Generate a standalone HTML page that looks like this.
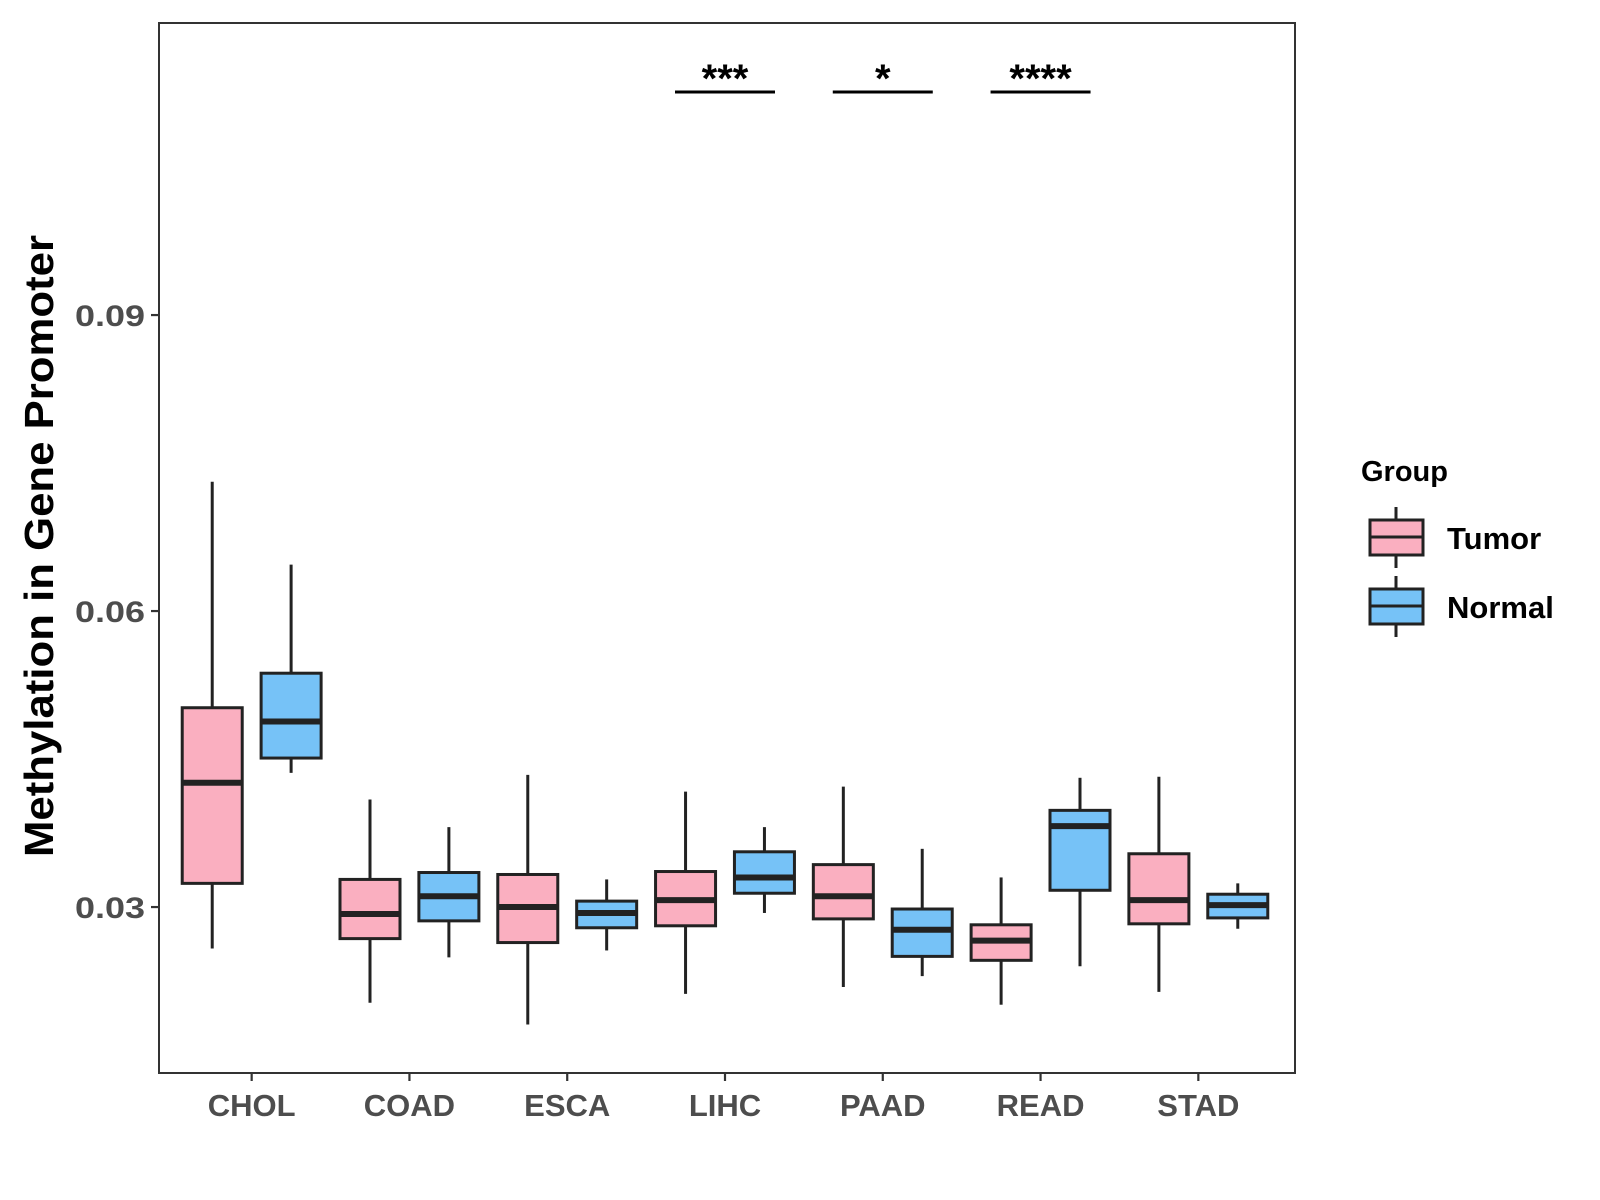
<!DOCTYPE html>
<html><head><meta charset="utf-8"><style>
html,body{margin:0;padding:0;background:#fff;}
svg{display:block;font-family:"Liberation Sans",Arial,sans-serif;}
</style></head><body>
<svg id="chart" width="1600" height="1200" viewBox="0 0 1600 1200" xmlns="http://www.w3.org/2000/svg">
<rect x="0" y="0" width="1600" height="1200" fill="#fff"/>
<g id="plot"></g>
<text transform="translate(53,546) rotate(-90)" text-anchor="middle" font-size="41" font-weight="bold" fill="#000" textLength="622" lengthAdjust="spacingAndGlyphs">Methylation in Gene Promoter</text>
<g>
<text x="1361" y="481" font-size="29" font-weight="bold" fill="#000">Group</text>
<g>
<line x1="1396" y1="507" x2="1396" y2="568" stroke="#222" stroke-width="3"/>
<rect x="1370" y="520" width="53" height="35" fill="#FAAFC0" stroke="#222" stroke-width="3"/>
<line x1="1370" y1="537" x2="1423" y2="537" stroke="#222" stroke-width="3"/>
<text x="1447" y="549" font-size="31" font-weight="bold" fill="#000">Tumor</text>
</g>
<g>
<line x1="1396" y1="576" x2="1396" y2="637" stroke="#222" stroke-width="3"/>
<rect x="1370" y="589" width="53" height="35" fill="#76C2F7" stroke="#222" stroke-width="3"/>
<line x1="1370" y1="606" x2="1423" y2="606" stroke="#222" stroke-width="3"/>
<text x="1447" y="618" font-size="31" font-weight="bold" fill="#000">Normal</text>
</g>
</g>
</svg>
<script>
const categories=["CHOL","COAD","ESCA","LIHC","PAAD","READ","STAD"];
const tumorLow=[0.0258,0.0203,0.0181,0.0212,0.0219,0.0201,0.0214];
const tumorQ1=[0.0324,0.0268,0.0264,0.0281,0.0288,0.0246,0.0283];
const tumorMed=[0.0426,0.0293,0.0300,0.0307,0.0311,0.0266,0.0307];
const tumorQ3=[0.0502,0.0328,0.0333,0.0336,0.0343,0.0282,0.0354];
const tumorHigh=[0.0731,0.0409,0.0434,0.0417,0.0422,0.0330,0.0432];
const normalLow=[0.0436,0.0249,0.0256,0.0294,0.0230,0.0240,0.0278];
const normalQ1=[0.0451,0.0286,0.0279,0.0314,0.0250,0.0317,0.0289];
const normalMed=[0.0488,0.0311,0.0294,0.0330,0.0277,0.0382,0.0302];
const normalQ3=[0.0537,0.0335,0.0306,0.0356,0.0298,0.0398,0.0313];
const normalHigh=[0.0647,0.0381,0.0328,0.0381,0.0359,0.0431,0.0324];
const yTicks=[0.03,0.06,0.09];
const yTickLabels=["0.03","0.06","0.09"];
const sigCategories=["LIHC","PAAD","READ"];
const sigLabels=["***","*","****"];

const NS="http://www.w3.org/2000/svg";
const P={l:159,r:1295,t:23,b:1073};
const yMin=0.01318,yMax=0.1196;
function y(v){return P.b-(v-yMin)/(yMax-yMin)*(P.b-P.t);}
const step=(P.r-P.l)/(categories.length-1+1.2);
function x(i){return P.l-2+step*(i+0.6);}
const g=document.getElementById('plot');
function mk(tag,attrs,parent){const e=document.createElementNS(NS,tag);for(const k in attrs)e.setAttribute(k,attrs[k]);(parent||g).appendChild(e);return e;}

const axisColor="#4d4d4d";
yTicks.forEach((t,i)=>{
  const tk=mk('line',{x1:P.l-8,x2:P.l,y1:y(t),y2:y(t),stroke:"#333","stroke-width":2.2});
  
  
  const tx=mk('text',{x:P.l-14,y:y(t)+11,"text-anchor":"end","font-size":30,"font-weight":"bold",fill:axisColor,textLength:70,lengthAdjust:"spacingAndGlyphs"});
  tx.textContent=yTickLabels[i];
  
  
});
categories.forEach((c,i)=>{
  const tk=mk('line',{x1:x(i),x2:x(i),y1:P.b,y2:P.b+8,stroke:"#333","stroke-width":2.2});
  
  
  const tx=mk('text',{x:x(i),y:P.b+43,"text-anchor":"middle","font-size":31,"font-weight":"bold",fill:axisColor});
  tx.textContent=c;
  
  
});
const bw=60,off=step*0.25;
function box(i,dx,lo,q1,md,q3,hi,fill,name){
  const cx=x(i)+dx;
  const grp=mk('g',{});
  
  
  mk('line',{x1:cx,x2:cx,y1:y(hi),y2:y(q3),stroke:"#222","stroke-width":3},grp);
  mk('line',{x1:cx,x2:cx,y1:y(q1),y2:y(lo),stroke:"#222","stroke-width":3},grp);
  mk('rect',{x:cx-bw/2,y:y(q3),width:bw,height:y(q1)-y(q3),fill:fill,stroke:"#222","stroke-width":3},grp);
  mk('line',{x1:cx-bw/2,x2:cx+bw/2,y1:y(md),y2:y(md),stroke:"#222","stroke-width":6},grp);
}
categories.forEach((c,i)=>{
  box(i,-off,tumorLow[i],tumorQ1[i],tumorMed[i],tumorQ3[i],tumorHigh[i],"#FAAFC0","box-tumor-"+c.toLowerCase());
  box(i,off,normalLow[i],normalQ1[i],normalMed[i],normalQ3[i],normalHigh[i],"#76C2F7","box-normal-"+c.toLowerCase());
});
sigCategories.forEach((c,k)=>{
  const i=categories.indexOf(c);
  const ln=mk('line',{x1:x(i)-50,x2:x(i)+50,y1:92,y2:92,stroke:"#000","stroke-width":3});
  
  
  const tx=mk('text',{x:x(i),y:92,"text-anchor":"middle","font-size":40,"font-weight":"bold",fill:"#000"});
  tx.textContent=sigLabels[k];
  
  
});
const fr=mk('rect',{x:P.l,y:P.t,width:P.r-P.l,height:P.b-P.t,fill:"none",stroke:"#333","stroke-width":2});


</script>
</body></html>
